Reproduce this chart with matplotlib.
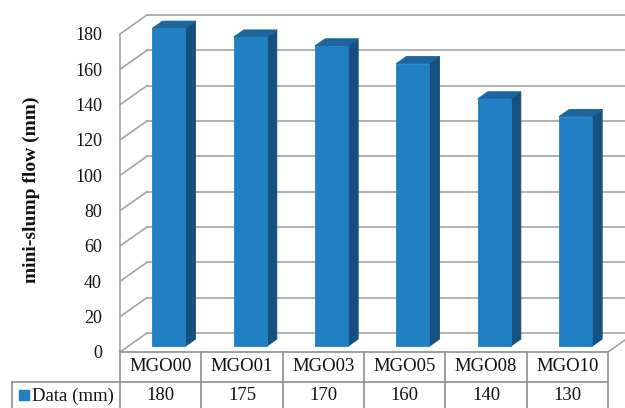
import matplotlib.pyplot as plt
import numpy as np

categories = ['MGO00', 'MGO01', 'MGO03', 'MGO05', 'MGO08', 'MGO10']
flow_mm = [180, 175, 170, 160, 140, 130]
y_ticks = [0, 20, 40, 60, 80, 100, 120, 140, 160, 180]
row_label = 'Data (mm)'
y_title = 'mini-slump flow (mm)'

FRONT = '#2080C3'
SIDE = '#15507E'
TOP = '#1C659E'
GRID = '#A3A3A3'
TABLE = '#8E8E8E'
TXT = '#111111'

plt.rcParams['font.family'] = ['Liberation Serif', 'DejaVu Serif']

W, H = 625, 408
fig = plt.figure(figsize=(W / 100, H / 100), dpi=100)
# front plane of the plot box, in pixels
left_px, right_px, top_px, floor_px = 120, 608, 34, 352
ax = fig.add_axes([left_px / W, (H - floor_px) / H,
                   (right_px - left_px) / W, (floor_px - top_px) / H])
n = len(categories)
ax.set_xlim(-0.5, n - 0.5)
ax.set_ylim(0, 180)
for s in ax.spines.values():
    s.set_visible(False)
ax.set_xticks([])
ax.set_yticks(y_ticks)
ax.tick_params(axis='y', length=0, pad=13, labelsize=13, labelcolor=TXT)

# pixel -> data unit conversion, for the oblique depth offset
px_x = (right_px - left_px) / n
px_y = (floor_px - top_px) / 180.0
DX = 27 / px_x
DY = 19 / px_y


def proj(x, y, f):
    return x + f * DX, y + f * DY


kw = dict(clip_on=False)

# back wall gridlines and left wall
for v in y_ticks:
    x0, y0 = proj(-0.5, v, 1)
    x1, y1 = proj(n - 0.5, v, 1)
    ax.plot([x0, x1 + 1], [y0, y1], color=GRID, lw=1.2, zorder=1, **kw)
    ax.plot([-0.5, x0], [v, y0], color=GRID, lw=1.2, zorder=1, **kw)
# floor right edge
xa, ya = proj(n - 0.5, 0, 1)
ax.plot([n - 0.5, xa], [0, ya], color=GRID, lw=1.2, zorder=1, **kw)
# front vertical axis line
ax.plot([-0.5, -0.5], [0, 180], color=GRID, lw=1.2, zorder=1, **kw)

# 3d bars
bw = 33 / px_x
f0, f1 = 0.3, 0.68
for i, v in enumerate(flow_mm):
    xl = i - bw / 2
    xr = i + bw / 2
    front = [proj(xl, 0, f0), proj(xr, 0, f0), proj(xr, v, f0), proj(xl, v, f0)]
    side = [proj(xr, 0, f0), proj(xr, 0, f1), proj(xr, v, f1), proj(xr, v, f0)]
    top = [proj(xl, v, f0), proj(xr, v, f0), proj(xr, v, f1), proj(xl, v, f1)]
    for poly, c in ((side, SIDE), (top, TOP), (front, FRONT)):
        xs, ys = zip(*poly)
        ax.fill(xs, ys, color=c, lw=0.6, ec=c, zorder=3, **kw)

# data table under the plot
row_h = 29.7 / px_y
bottom = -(H - floor_px + 2) / px_y
lab_left = -0.5 - (left_px - 12) / px_x
ax.plot([-0.5, n - 0.5], [0, 0], color=TABLE, lw=1.2, zorder=2, **kw)
ax.plot([lab_left, n - 0.5], [-row_h, -row_h], color=TABLE, lw=1.2, zorder=2, **kw)
for e in np.arange(-0.5, n, 1.0):
    ax.plot([e, e], [0, bottom], color=TABLE, lw=1.2, zorder=2, **kw)
ax.plot([lab_left, lab_left], [-row_h, bottom], color=TABLE, lw=1.2, zorder=2, **kw)
for i, (c, v) in enumerate(zip(categories, flow_mm)):
    ax.text(i, -row_h / 2, c, ha='center', va='center', fontsize=13.5, color=TXT, **kw)
    ax.text(i, (-row_h + bottom) / 2, str(v), ha='center', va='center',
            fontsize=13.5, color=TXT, **kw)
row_mid = (-row_h + bottom) / 2
ax.plot([lab_left + 11.5 / px_x], [row_mid + 0.3], marker='s', ms=7,
        color=FRONT, mec=FRONT, zorder=3, **kw)
ax.text(lab_left + 20 / px_x, row_mid, row_label, ha='left', va='center',
        fontsize=13.5, color=TXT, **kw)

ax.set_ylabel(y_title, fontsize=14, fontweight='bold', color=TXT)
ax.yaxis.set_label_coords((40 - left_px) / (right_px - left_px), 0.51)

fig.savefig('out.png', dpi=100)
